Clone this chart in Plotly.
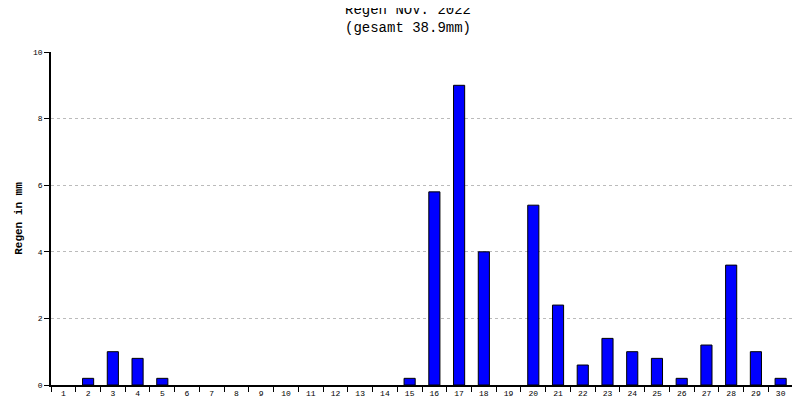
import plotly.graph_objects as go

tage = [str(d) for d in range(1, 31)]
regen = [0, 0.2, 1.0, 0.8, 0.2, 0, 0, 0, 0, 0, 0, 0, 0, 0, 0.2,
         5.8, 9.0, 4.0, 0, 5.4, 2.4, 0.6, 1.4, 1.0, 0.8, 0.2, 1.2, 3.6, 1.0, 0.2]

# Tage ohne Regen nicht als Strich zeichnen
y_bars = [v if v > 0 else None for v in regen]

fig = go.Figure(go.Bar(x=tage, y=y_bars, width=0.45, marker_color="#0000ff",
                       marker_line_color="black", marker_line_width=1))

fig.update_layout(
    width=800, height=400, margin=dict(l=43, r=15, t=44, b=23, autoexpand=False),
    paper_bgcolor="white", plot_bgcolor="white", showlegend=False,
    font=dict(family="Liberation Mono, DejaVu Sans Mono", size=8, color="black"),
    title=dict(text="Regen NOV. 2022<br>(gesamt 38.9mm)", x=0.5, y=0.985, yanchor="top",
               automargin=False,
               font=dict(size=14, family="Liberation Mono, DejaVu Sans Mono")),
    xaxis=dict(type="category", tickson="boundaries", ticks="outside", ticklen=5,
               showline=True, linecolor="black", linewidth=1.5, tickcolor="black",
               showgrid=False, automargin=False),
    yaxis=dict(range=[0, 10], dtick=2, ticks="outside", ticklen=5, tickcolor="black",
               showline=True, linecolor="black", linewidth=1.5, zeroline=False,
               showgrid=True, gridcolor="#bbbbbb", griddash="dot", automargin=False,
               title=dict(text="<b>Regen in mm</b>", font=dict(size=11), standoff=8)),
)

fig.write_html("out.html")
